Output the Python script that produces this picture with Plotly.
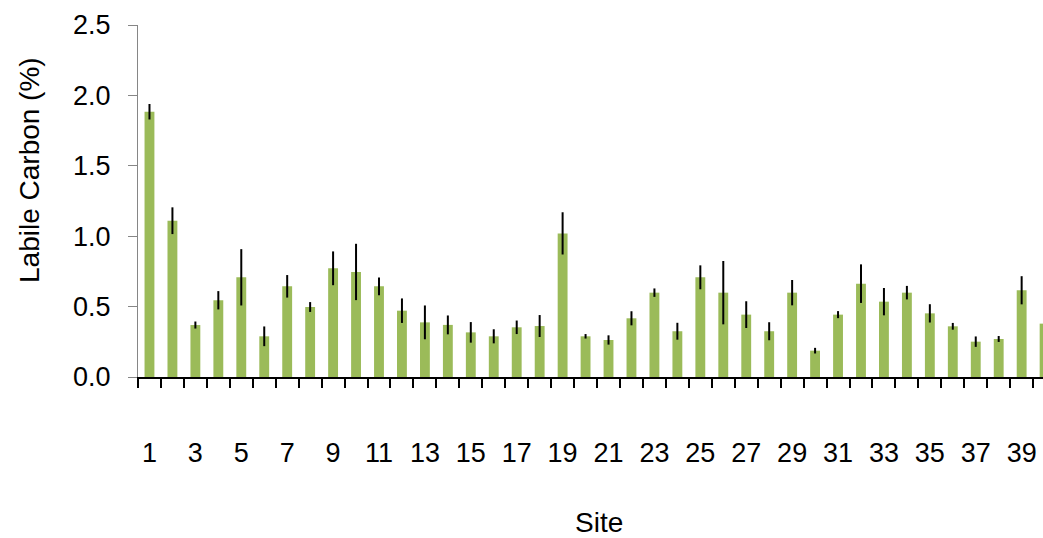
import plotly.graph_objects as go

# Labile carbon by site (mean with error)
sites = list(range(1, 41))
labile_carbon = [1.884, 1.110, 0.369, 0.545, 0.708, 0.289, 0.644, 0.497, 0.772, 0.746,
                 0.644, 0.471, 0.388, 0.370, 0.317, 0.289, 0.353, 0.362, 1.020, 0.289,
                 0.263, 0.417, 0.599, 0.325, 0.708, 0.599, 0.443, 0.325, 0.599, 0.187,
                 0.443, 0.663, 0.535, 0.599, 0.452, 0.360, 0.251, 0.270, 0.616, 0.379]
error = [0.055, 0.095, 0.025, 0.065, 0.200, 0.070, 0.080, 0.035, 0.120, 0.200,
         0.063, 0.087, 0.120, 0.067, 0.073, 0.050, 0.048, 0.078, 0.150, 0.016,
         0.033, 0.050, 0.030, 0.060, 0.085, 0.225, 0.095, 0.064, 0.090, 0.020,
         0.025, 0.137, 0.097, 0.048, 0.065, 0.024, 0.037, 0.021, 0.100, 0.050]
x_tick_labels = [str(s) for s in sites if s % 2 == 1]
y_ticks = [0.0, 0.5, 1.0, 1.5, 2.0, 2.5]

FONT = "Liberation Sans, Arial, sans-serif"

fig = go.Figure(
    go.Bar(
        x=sites,
        y=labile_carbon,
        width=0.43,
        marker=dict(color="#9BBB59", line=dict(width=0)),
        error_y=dict(type="data", array=error, visible=True,
                     color="#000000", thickness=2, width=0),
    )
)

fig.update_layout(
    width=1043, height=538,
    margin=dict(l=138, r=0, t=25, b=161),
    paper_bgcolor="white", plot_bgcolor="white",
    showlegend=False,
    font=dict(family=FONT, color="#000000"),
    xaxis=dict(
        range=[0.5, 39.93],
        tickmode="array",
        tickvals=[int(t) for t in x_tick_labels],
        ticktext=x_tick_labels,
        ticks="",
        ticklabelstandoff=51,
        tickfont=dict(size=27, family=FONT),
        showline=True, linecolor="#000000", linewidth=2,
        showgrid=False, zeroline=False,
        minor=dict(tick0=0.5, dtick=1, ticks="outside", ticklen=9,
                   tickcolor="#000000", tickwidth=1.5, showgrid=False),
    ),
    yaxis=dict(
        range=[0, 2.5],
        tickmode="array",
        tickvals=y_ticks,
        ticktext=[f"{v:.1f}" for v in y_ticks],
        ticks="outside", ticklen=9, tickcolor="#868686", tickwidth=1,
        ticklabelstandoff=12,
        tickfont=dict(size=27, family=FONT),
        showline=True, linecolor="#868686", linewidth=1,
        showgrid=False, zeroline=False,
    ),
    annotations=[
        dict(text="Site", xref="paper", yref="paper",
             x=(599 - 138) / 905, y=(377 - 522) / 352,
             xanchor="center", yanchor="middle", showarrow=False,
             font=dict(size=28, family=FONT)),
        dict(text="Labile Carbon (%)", xref="paper", yref="paper",
             x=(29 - 138) / 905, y=(377 - 170) / 352, textangle=-90,
             xanchor="center", yanchor="middle", showarrow=False,
             font=dict(size=28, family=FONT)),
    ],
)

fig.write_html("out.html")
